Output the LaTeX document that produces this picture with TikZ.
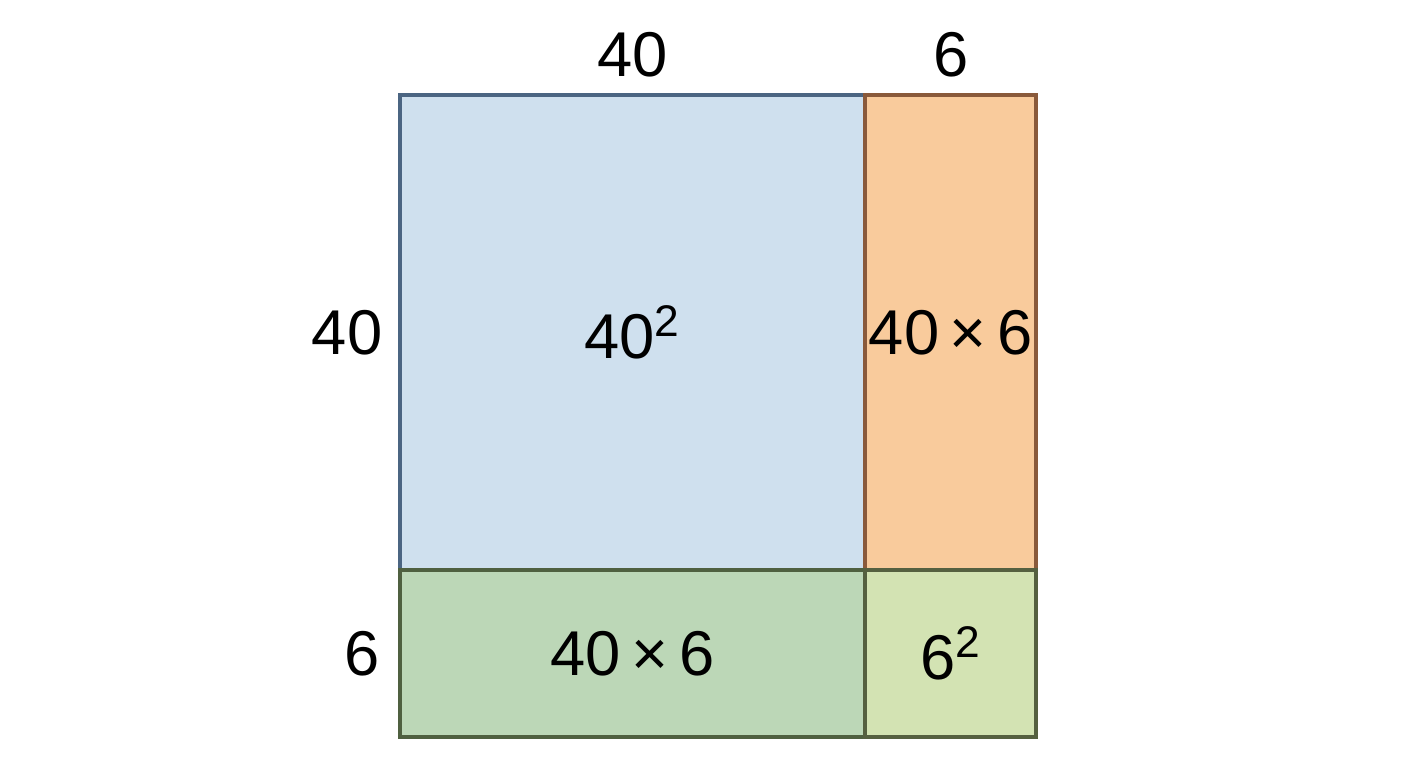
\documentclass[tikz,border=0pt]{standalone}
\usepackage{fontspec}
\setmainfont{Liberation Sans}
\usepackage{tikz}
\usetikzlibrary{positioning,calc}
\definecolor{sqblue}{HTML}{CFE0EE}
\definecolor{sqblueline}{HTML}{4B6582}
\definecolor{sqorange}{HTML}{F9CB9C}
\definecolor{sqorangeline}{HTML}{8A5A3B}
\definecolor{sqgreen}{HTML}{BCD7B7}
\definecolor{sqgreenline}{HTML}{4F6040}
\definecolor{sqlime}{HTML}{D3E3B3}
\definecolor{sqlimeline}{HTML}{556040}
\tikzset{area/.style={draw, line width=1.1pt, inner sep=0pt, outer sep=0pt, font=\fontsize{18}{21}\selectfont}}
\tikzset{side/.style={font=\fontsize{18}{21}\selectfont, inner sep=0pt}}
\begin{document}
\begin{tikzpicture}[x=0.01cm, y=-0.01cm]
	\useasboundingbox (0,0) rectangle (1408,768);
	\node[area, fill=sqblue, draw=sqblueline, minimum width=4.65cm, minimum height=4.75cm, anchor=north west](big) at (400,95){40\textsuperscript{2}};
	\node[area, fill=sqorange, draw=sqorangeline, minimum width=1.71cm, minimum height=4.75cm, anchor=north west](right) at (big.north east){40\,×\,6};
	\node[area, fill=sqgreen, draw=sqgreenline, minimum width=4.65cm, minimum height=1.67cm, anchor=north west](bottom) at (big.south west){40\,×\,6};
	\node[area, fill=sqlime, draw=sqlimeline, minimum width=1.71cm, minimum height=1.67cm, anchor=north west](corner) at (big.south east){6\textsuperscript{2}};
	% side lengths
	\node[side, above=0.17cm of big](topa){40};
	\node[side, above=0.17cm of right](topb){6};
	\node[side, left=0.17cm of big](lefta){40};
	\node[side, left=0.2cm of bottom](leftb){6};
\end{tikzpicture}
\end{document}
